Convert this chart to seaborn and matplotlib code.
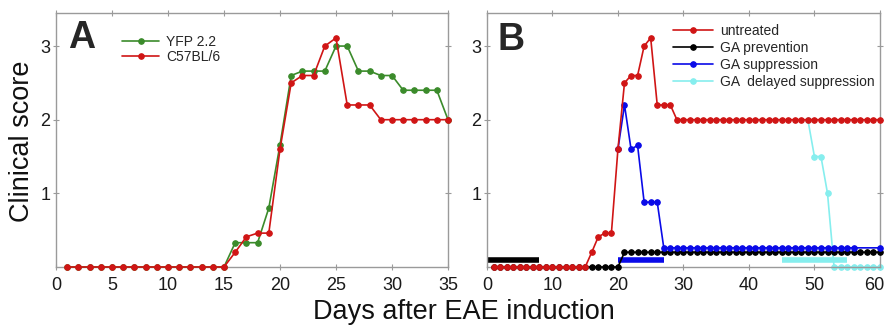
import matplotlib

matplotlib.use("Agg")

import matplotlib.pyplot as plt
import matplotlib.transforms as mtransforms
import seaborn as sns

# ---- panel A: YFP 2.2 vs C57BL/6 ----
DAYS_A = list(range(1, 36))
YFP_SCORE = [0, 0, 0, 0, 0, 0, 0, 0, 0, 0, 0, 0, 0, 0, 0,
             0.33, 0.33, 0.33, 0.8, 1.66, 2.6, 2.66, 2.66, 2.66, 3.0,
             3.0, 2.66, 2.66, 2.6, 2.6, 2.4, 2.4, 2.4, 2.4, 2.0]
C57_SCORE = [0, 0, 0, 0, 0, 0, 0, 0, 0, 0, 0, 0, 0, 0, 0,
             0.2, 0.41, 0.46, 0.46, 1.6, 2.5, 2.6, 2.6, 3.0, 3.11,
             2.2, 2.2, 2.2, 2.0, 2.0, 2.0, 2.0, 2.0, 2.0, 2.0]

# ---- panel B: GA treatment groups ----
DAYS_B = list(range(1, 61))
UNTREATED = [0, 0, 0, 0, 0, 0, 0, 0, 0, 0, 0, 0, 0, 0, 0,
             0.2, 0.41, 0.46, 0.46, 1.6, 2.5, 2.6, 2.6, 3.0, 3.11,
             2.2, 2.2, 2.2, 2.0, 2.0, 2.0, 2.0, 2.0, 2.0, 2.0,
             2.0, 2.0, 2.0, 2.0, 2.0, 2.0, 2.0, 2.0, 2.0, 2.0,
             2.0, 2.0, 2.0, 2.0, 2.0, 2.0, 2.0, 2.0, 2.0, 2.0,
             2.0, 2.0, 2.0, 2.0, 2.0]
PREVENTION = [0, 0, 0, 0, 0, 0, 0, 0, 0, 0, 0, 0, 0, 0, 0,
              0, 0, 0, 0, 0, 0.2, 0.2, 0.2, 0.2, 0.2,
              0.2, 0.2, 0.2, 0.2, 0.2, 0.2, 0.2, 0.2, 0.2, 0.2,
              0.2, 0.2, 0.2, 0.2, 0.2, 0.2, 0.2, 0.2, 0.2, 0.2,
              0.2, 0.2, 0.2, 0.2, 0.2, 0.2, 0.2, 0.2, 0.2, 0.2,
              0.2, 0.2, 0.2, 0.2, 0.2]
SUPPRESSION_DAYS = [20, 21, 22, 23, 24, 25, 26, 27, 28, 29, 30, 31, 32, 33, 34,
                    35, 36, 37, 38, 39, 40, 41, 42, 43, 44, 45, 46, 47, 48, 49,
                    50, 51, 52, 53, 54, 55, 56, 60]
SUPPRESSION = [1.6, 2.2, 1.6, 1.65, 0.88, 0.88, 0.88, 0.26, 0.26, 0.26,
               0.26, 0.26, 0.26, 0.26, 0.26, 0.26, 0.26, 0.26, 0.26, 0.26,
               0.26, 0.26, 0.26, 0.26, 0.26, 0.26, 0.26, 0.26, 0.26, 0.26,
               0.26, 0.26, 0.26, 0.26, 0.26, 0.26, 0.26, 0.26]
DELAYED_DAYS = [49, 50, 51, 52, 53, 54, 55, 56, 57, 58, 59, 60]
DELAYED = [2.0, 1.5, 1.5, 1.0, 0, 0, 0, 0, 0, 0, 0, 0]

# treatment periods (bars near the x axis)
TREAT_START = [0, 20, 45]
TREAT_END = [8, 27, 55]
TREAT_LEVEL = 0.1

GREEN = "#3b8b2b"
RED = "#d01515"
BLUE = "#0a0ae8"
BLACK = "#000000"
CYAN = "#86eeee"
TREAT_COLORS = [BLACK, BLUE, CYAN]

sns.set_style("ticks")
plt.rcParams["font.family"] = ["Liberation Sans", "DejaVu Sans"]

fig = plt.figure(figsize=(8.87, 3.27), dpi=100)
ax_a = fig.add_axes([0.0631, 0.1835, 0.442, 0.777])
ax_b = fig.add_axes([0.549, 0.1835, 0.443, 0.777])

line_kw = dict(marker="o", markersize=4.0, linewidth=1.2, clip_on=False)

sns.lineplot(x=DAYS_A, y=YFP_SCORE, ax=ax_a, color=GREEN, markeredgecolor=GREEN,
             label="YFP 2.2", zorder=3, **line_kw)
sns.lineplot(x=DAYS_A, y=C57_SCORE, ax=ax_a, color=RED, markeredgecolor=RED,
             label="C57BL/6", zorder=4, **line_kw)

sns.lineplot(x=DELAYED_DAYS, y=DELAYED, ax=ax_b, color=CYAN, markeredgecolor=CYAN,
             label="GA  delayed suppression", zorder=2, **line_kw)
sns.lineplot(x=DAYS_B, y=PREVENTION, ax=ax_b, color=BLACK, markeredgecolor=BLACK,
             label="GA prevention", zorder=3, **line_kw)
sns.lineplot(x=SUPPRESSION_DAYS, y=SUPPRESSION, ax=ax_b, color=BLUE, markeredgecolor=BLUE,
             label="GA suppression", zorder=4, **line_kw)
sns.lineplot(x=DAYS_B, y=UNTREATED, ax=ax_b, color=RED, markeredgecolor=RED,
             label="untreated", zorder=5, **line_kw)

ax_b.hlines([TREAT_LEVEL] * len(TREAT_START), TREAT_START, TREAT_END,
            colors=TREAT_COLORS, linewidth=4.0, zorder=2)

ax_a.set_xlim(0, 35)
ax_a.set_xticks(range(0, 36, 5))
ax_b.set_xlim(0, 60)
ax_b.set_xticks(range(0, 61, 10))

for ax in (ax_a, ax_b):
    ax.set_ylim(0, 3.45)
    ax.set_yticks([1, 2, 3])
    for spine in ax.spines.values():
        spine.set_visible(True)
        spine.set_color("#9a9a9a")
        spine.set_linewidth(1.0)
    ax.tick_params(direction="inout", length=4, width=0.8, color="#9a9a9a",
                   top=True, right=True, labelsize=13, labelcolor="#1a1a1a")
    ax.tick_params(axis="x", pad=5)
    ax.tick_params(axis="y", pad=2)
    ax.set_xlabel("")
    ax.set_ylabel("")

# the last tick label of panel B sits at the figure edge, nudge it left a bit
last_label = ax_b.get_xticklabels()[-1]
last_label.set_transform(last_label.get_transform()
                         + mtransforms.ScaledTranslation(-6 / 100, 0, fig.dpi_scale_trans))

ax_a.legend(loc="upper left", bbox_to_anchor=(0.168, 0.915), frameon=False,
            fontsize=10, handlelength=2.7, handletextpad=0.5,
            labelspacing=0.1, borderpad=0, borderaxespad=0)

handles, labels = ax_b.get_legend_handles_labels()
order = ["untreated", "GA prevention", "GA suppression", "GA  delayed suppression"]
handle_map = dict(zip(labels, handles))
ax_b.legend([handle_map[name] for name in order], order, loc="upper left",
            bbox_to_anchor=(0.473, 0.955), frameon=False, fontsize=10,
            handlelength=2.9, handletextpad=0.5, labelspacing=0.2,
            borderpad=0, borderaxespad=0)

ax_a.text(0.031, 0.862, "A", transform=ax_a.transAxes, fontsize=27,
          fontweight="bold", va="baseline", ha="left")
ax_b.text(0.028, 0.854, "B", transform=ax_b.transAxes, fontsize=27,
          fontweight="bold", va="baseline", ha="left")

fig.text(0.523, 0.024, "Days after EAE induction", fontsize=19.5,
         ha="center", va="baseline", color="#111111")
fig.text(0.025, 0.569, "Clinical score", fontsize=19.5, rotation=90,
         ha="center", va="center", color="#111111")

fig.savefig("out.png", dpi=100)
